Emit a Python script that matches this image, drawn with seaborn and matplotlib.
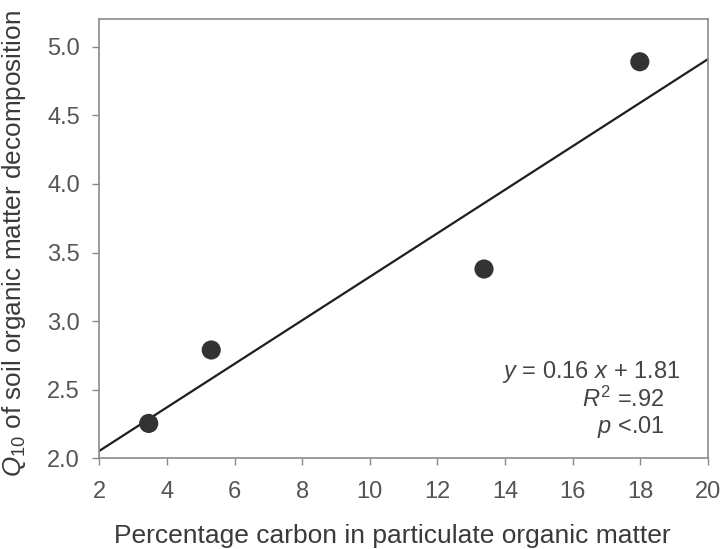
import matplotlib
matplotlib.use("Agg")
import matplotlib.pyplot as plt
import seaborn as sns
import pandas as pd

# Data
carbon_pct = [3.46, 5.31, 13.38, 17.99]
q10_values = [2.255, 2.79, 3.38, 4.89]
x_ticks = [2, 4, 6, 8, 10, 12, 14, 16, 18, 20]
y_ticks = [2.0, 2.5, 3.0, 3.5, 4.0, 4.5, 5.0]

sns.set_style("white")
plt.rcParams['font.family'] = ['Liberation Sans', 'DejaVu Sans']
plt.rcParams['mathtext.fontset'] = 'custom'
plt.rcParams['mathtext.rm'] = 'Liberation Sans'
plt.rcParams['mathtext.it'] = 'Liberation Sans:italic'

df = pd.DataFrame({"carbon": carbon_pct, "q10": q10_values})

fig = plt.figure(figsize=(7.2, 5.49), dpi=100)
ax = fig.add_axes([0.138, 0.165, 0.845, 0.800])
ax.set_xlim(2, 20)
ax.set_ylim(2.0, 5.2)

sns.regplot(data=df, x="carbon", y="q10", ax=ax, ci=None, truncate=False,
            scatter_kws=dict(s=190, color="#333333", edgecolor="none", alpha=1, zorder=3),
            line_kws=dict(color="#1e1e1e", lw=1.6, zorder=2))

ax.set_xlim(2, 20)
ax.set_ylim(2.0, 5.2)
ax.set_xticks(x_ticks)
ax.set_yticks(y_ticks)
ax.set_yticklabels([f"{v:.1f}" for v in y_ticks])

for s in ax.spines.values():
    s.set_color("#8a8a8a")
    s.set_linewidth(1.2)
ax.tick_params(axis="both", which="major", direction="out", length=5, width=1.0,
               color="#8a8a8a", labelcolor="#555555", labelsize=17)
ax.tick_params(axis="x", pad=11)
ax.tick_params(axis="y", pad=9)
ax.tick_params(axis="both", bottom=True, left=True)

ax.set_xlabel("Percentage carbon in particulate organic matter", fontsize=19,
              color="#3a3a3a")
ax.xaxis.set_label_coords(0.482, -0.150)
ax.set_ylabel(r"$\mathit{Q}_{\mathrm{10}}$ of soil organic matter decomposition", fontsize=18.8,
              color="#3a3a3a")
ax.yaxis.set_label_coords(-0.117, 0.49)

ax.text(19.17, 2.584, r"$\mathit{y}$ = 0.16 $\mathit{x}$ + 1.81", ha="right", va="baseline",
        fontsize=17, color="#444444")
ax.text(18.73, 2.373, r"$\mathit{R}^{2}$ =.92", ha="right", va="baseline",
        fontsize=17, color="#444444")
ax.text(18.73, 2.184, r"$\mathit{p}$ <.01", ha="right", va="baseline",
        fontsize=17, color="#444444")

fig.savefig("out.png", dpi=100)
